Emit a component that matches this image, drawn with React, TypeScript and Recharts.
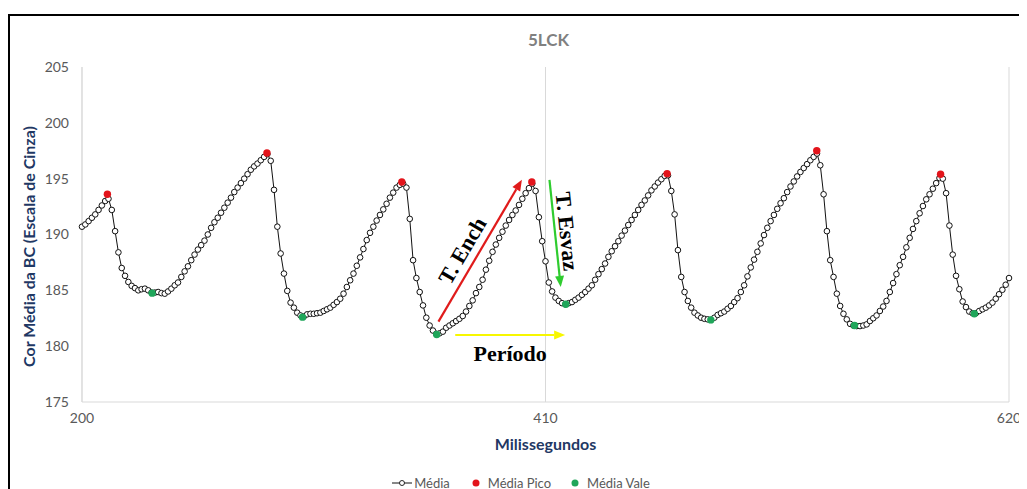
import React from 'react';
import {
  ScatterChart,
  Scatter,
  XAxis,
  YAxis,
  CartesianGrid,
  ReferenceLine,
  Legend,
  Label,
} from 'recharts';

const FONT = 'Lato, "Open Sans", sans-serif';

// amostragem da série "Média" (ms)
const tempoInicial = 200;
const passoMs = 1.5;

const mediaParte1 = [
  190.7, 190.9, 191.2, 191.5, 191.8, 192.2, 192.6, 193.0, 193.2, 192.2,
  190.3, 188.4, 187.0, 186.3, 185.75, 185.4, 185.2, 185.0, 185.1, 185.15,
  185.0, 184.8, 184.8, 184.85, 184.75, 184.7, 184.9, 185.15, 185.45, 185.7,
  186.2, 186.7, 187.15, 187.7, 188.2, 188.65, 189.05, 189.45, 190.0, 190.6,
];
const mediaParte2 = [
  191.1, 191.5, 191.95, 192.4, 192.85, 193.3, 193.8, 194.2, 194.6, 195.0,
  195.4, 195.8, 196.1, 196.35, 196.65, 196.95, 197.2, 196.6, 194.0, 190.7,
  188.3, 186.5, 184.95, 183.9, 183.45, 183.0, 182.75, 182.65, 182.85, 182.9,
  182.9, 182.95, 183.0, 183.15, 183.3, 183.45, 183.7, 183.95, 184.25, 184.7,
];
const mediaParte3 = [
  185.3, 185.9, 186.5, 187.2, 187.95, 188.7, 189.5, 190.15, 190.7, 191.25,
  191.75, 192.25, 192.75, 193.3, 193.75, 194.2, 194.45, 194.55, 194.2, 191.4,
  187.7, 186.1, 184.85, 183.65, 182.55, 181.85, 181.4, 181.1, 181.15, 181.3,
  181.65, 181.85, 182.05, 182.25, 182.45, 182.7, 183.1, 183.6, 184.1, 184.75,
];
const mediaParte4 = [
  185.3, 185.95, 186.85, 187.65, 188.45, 189.1, 189.7, 190.25, 190.8, 191.3,
  191.75, 192.15, 192.65, 193.2, 193.7, 194.15, 194.55, 193.9, 191.55, 189.4,
  187.6, 185.7, 184.9, 184.35, 184.05, 183.85, 183.75, 183.85, 183.95, 184.15,
  184.35, 184.6, 184.85, 185.15, 185.45, 185.95, 186.45, 186.9, 187.4, 188.0,
];
const mediaParte5 = [
  188.5, 188.95, 189.4, 189.9, 190.35, 190.85, 191.3, 191.75, 192.2, 192.65,
  193.05, 193.5, 193.95, 194.3, 194.65, 194.95, 195.25, 195.3, 193.9, 191.8,
  188.6, 186.2, 184.85, 184.05, 183.45, 183.0, 182.75, 182.55, 182.45, 182.4,
  182.35, 182.55, 182.8, 182.95, 183.1, 183.35, 183.6, 183.95, 184.3, 184.85,
];
const mediaParte6 = [
  185.45, 186.25, 187.05, 187.75, 188.45, 189.2, 189.95, 190.6, 191.2, 191.75,
  192.3, 192.8, 193.25, 193.8, 194.3, 194.75, 195.2, 195.6, 195.95, 196.3,
  196.65, 196.95, 197.25, 196.2, 193.6, 190.3, 187.7, 186.2, 184.7, 183.6,
  182.9, 182.4, 182.0, 181.85, 181.8, 181.8, 181.85, 181.95, 182.25, 182.5,
];
const mediaParte7 = [
  182.75, 183.15, 183.55, 184.05, 184.85, 185.65, 186.45, 187.25, 188.0, 188.85,
  189.7, 190.5, 191.2, 191.9, 192.55, 193.15, 193.6, 194.1, 194.6, 195.05,
  195.0, 193.7, 190.8, 188.2, 186.3, 185.1, 184.0, 183.5, 183.1, 182.95,
  182.95, 183.15, 183.3, 183.45, 183.65, 183.9, 184.25, 184.65, 185.05, 185.5,
  186.1,
];

const picoTempo = [211.5, 283.8, 344.9, 403.8, 465.1, 532.9, 589.0];
const picoValor = [193.6, 197.3, 194.7, 194.7, 195.45, 197.5, 195.4];

const valeTempo = [231.8, 299.9, 360.7, 419.2, 484.9, 550.0, 604.3];
const valeValor = [184.75, 182.6, 181.05, 183.75, 182.35, 181.85, 182.9];

const ticksX = [200, 410, 620];
const ticksY = [175, 180, 185, 190, 195, 200, 205];

// anotações (coordenadas de dados)
const setaEnch = [{ x: 361.5, y: 182.2 }, { x: 399.3, y: 194.9 }];
const setaEsvaz = [{ x: 411.8, y: 194.9 }, { x: 416.9, y: 185.3 }];
const setaPeriodo = [{ x: 369.1, y: 181.0 }, { x: 418.9, y: 181.0 }];

const valoresMedia = [
  ...mediaParte1, ...mediaParte2, ...mediaParte3, ...mediaParte4,
  ...mediaParte5, ...mediaParte6, ...mediaParte7,
];
const serieMedia = valoresMedia.map((v, i) => ({ t: tempoInicial + i * passoMs, v }));
const seriePico = picoTempo.map((t, i) => ({ t, v: picoValor[i] }));
const serieVale = valeTempo.map((t, i) => ({ t, v: valeValor[i] }));

const VERMELHO = '#e3141b';
const VERDE = '#1fa65a';

const MarcadorVazio = (p: any) => (
  <circle cx={p.cx} cy={p.cy} r={2.8} fill="#fff" stroke="#111" strokeWidth={1} />
);
const marcadorCheio = (cor: string) => (p: any) => (
  <circle cx={p.cx} cy={p.cy} r={3.7} fill={cor} stroke="none" />
);

function seta(cor: string, texto: string, dx: number, dy: number) {
  return (p: any) => {
    const { x1, y1, x2, y2 } = p;
    const ang = Math.atan2(y2 - y1, x2 - x1);
    const head = 11;
    const half = 4.5;
    const bx = x2 - head * Math.cos(ang);
    const by = y2 - head * Math.sin(ang);
    const nx = -Math.sin(ang);
    const ny = Math.cos(ang);
    const pts = `${x2},${y2} ${bx + nx * half},${by + ny * half} ${bx - nx * half},${by - ny * half}`;
    const mx = (x1 + x2) / 2 + dx;
    const my = (y1 + y2) / 2 + dy;
    const deg = (ang * 180) / Math.PI;
    return (
      <g>
        <line x1={x1} y1={y1} x2={bx} y2={by} stroke={cor} strokeWidth={2.2} />
        <polygon points={pts} fill={cor} />
        <text
          x={mx}
          y={my}
          transform={`rotate(${deg} ${mx} ${my})`}
          textAnchor="middle"
          dominantBaseline="central"
          fontFamily='"Liberation Serif", "Times New Roman", serif'
          fontWeight="bold"
          fontSize={22}
          fill="#000"
        >
          {texto}
        </text>
      </g>
    );
  };
}

const TituloY = (props: any) => {
  const { viewBox } = props;
  const cx = viewBox.x + 18;
  const cy = viewBox.y + viewBox.height / 2 + 12;
  return (
    <text
      x={cx}
      y={cy}
      transform={`rotate(-90 ${cx} ${cy})`}
      textAnchor="middle"
      dominantBaseline="central"
      fontFamily={FONT}
      fontWeight="bold"
      fontSize={16}
      fill="#1f3864"
    >
      Cor Média da BC (Escala de Cinza)
    </text>
  );
};

const TituloX = (props: any) => {
  const { viewBox } = props;
  const cx = viewBox.x + viewBox.width / 2;
  const cy = viewBox.y + 41;
  return (
    <text
      x={cx}
      y={cy}
      textAnchor="middle"
      dominantBaseline="central"
      fontFamily={FONT}
      fontWeight="bold"
      fontSize={16}
      fill="#1f3864"
    >
      Milissegundos
    </text>
  );
};

const Legenda = () => (
  <div
    style={{
      display: 'flex',
      justifyContent: 'center',
      alignItems: 'center',
      height: 18,
      paddingLeft: 23,
      fontFamily: FONT,
      fontSize: 13,
      color: '#595959',
    }}
  >
    <span style={{ display: 'flex', alignItems: 'center' }}>
      <svg width={20} height={10}>
        <line x1={0} y1={5} x2={20} y2={5} stroke="#111" strokeWidth={1} />
        <circle cx={10} cy={5} r={2.5} fill="#fff" stroke="#111" strokeWidth={0.9} />
      </svg>
      <span style={{ marginLeft: 2 }}>Média</span>
    </span>
    <span style={{ display: 'flex', alignItems: 'center', marginLeft: 22 }}>
      <svg width={8} height={8}>
        <circle cx={4} cy={4} r={3.5} fill={VERMELHO} />
      </svg>
      <span style={{ marginLeft: 8 }}>Média Pico</span>
    </span>
    <span style={{ display: 'flex', alignItems: 'center', marginLeft: 20 }}>
      <svg width={8} height={8}>
        <circle cx={4} cy={4} r={3.5} fill={VERDE} />
      </svg>
      <span style={{ marginLeft: 8 }}>Média Vale</span>
    </span>
  </div>
);

export default function App() {
  return (
    <div
      style={{
        marginTop: 6,
        width: 1011,
        height: 490,
        border: '2px solid #000',
        borderBottom: 'none',
        position: 'relative',
        background: '#fff',
      }}
    >
      <div
        style={{
          position: 'absolute',
          top: 14,
          left: 75,
          width: 927,
          textAlign: 'center',
          lineHeight: '20px',
          fontFamily: FONT,
          fontWeight: 'bold',
          fontSize: 17,
          color: '#808080',
        }}
      >
        5LCK
      </div>
      <ScatterChart width={1011} height={480} margin={{ top: 51, right: 12, left: 0, bottom: 4 }}>
        <CartesianGrid horizontal={false} stroke="#d9d9d9" />
        <XAxis
          type="number"
          dataKey="t"
          domain={[200, 620]}
          ticks={ticksX}
          tickLine={false}
          tickSize={0}
          tickMargin={11}
          axisLine={{ stroke: '#d9d9d9' }}
          height={72}
          tick={{ fontFamily: FONT, fontSize: 14, fill: '#595959' }}
        >
          <Label content={<TituloX />} />
        </XAxis>
        <YAxis
          type="number"
          dataKey="v"
          domain={[175, 205]}
          ticks={ticksY}
          tickLine={false}
          tickSize={0}
          tickMargin={13}
          axisLine={{ stroke: '#d9d9d9' }}
          width={72}
          tick={{ fontFamily: FONT, fontSize: 14, fill: '#595959' }}
        >
          <Label content={<TituloY />} />
        </YAxis>
        <ReferenceLine segment={setaEnch} ifOverflow="visible" shape={seta('#e01b1b', 'T. Ench', -18, 0)} />
        <ReferenceLine segment={setaEsvaz} ifOverflow="visible" shape={seta('#2fcc2f', 'T. Esvaz', 12, -2)} />
        <ReferenceLine segment={setaPeriodo} ifOverflow="visible" shape={seta('#f7f700', 'Período', 0, 18)} />
        <Scatter
          name="Média"
          data={serieMedia}
          line={{ stroke: '#111', strokeWidth: 1 }}
          shape={MarcadorVazio}
          isAnimationActive={false}
        />
        <Scatter name="Média Pico" data={seriePico} shape={marcadorCheio(VERMELHO)} isAnimationActive={false} />
        <Scatter name="Média Vale" data={serieVale} shape={marcadorCheio(VERDE)} isAnimationActive={false} />
        <Legend verticalAlign="bottom" align="center" content={<Legenda />} wrapperStyle={{ height: 18 }} />
      </ScatterChart>
    </div>
  );
}
